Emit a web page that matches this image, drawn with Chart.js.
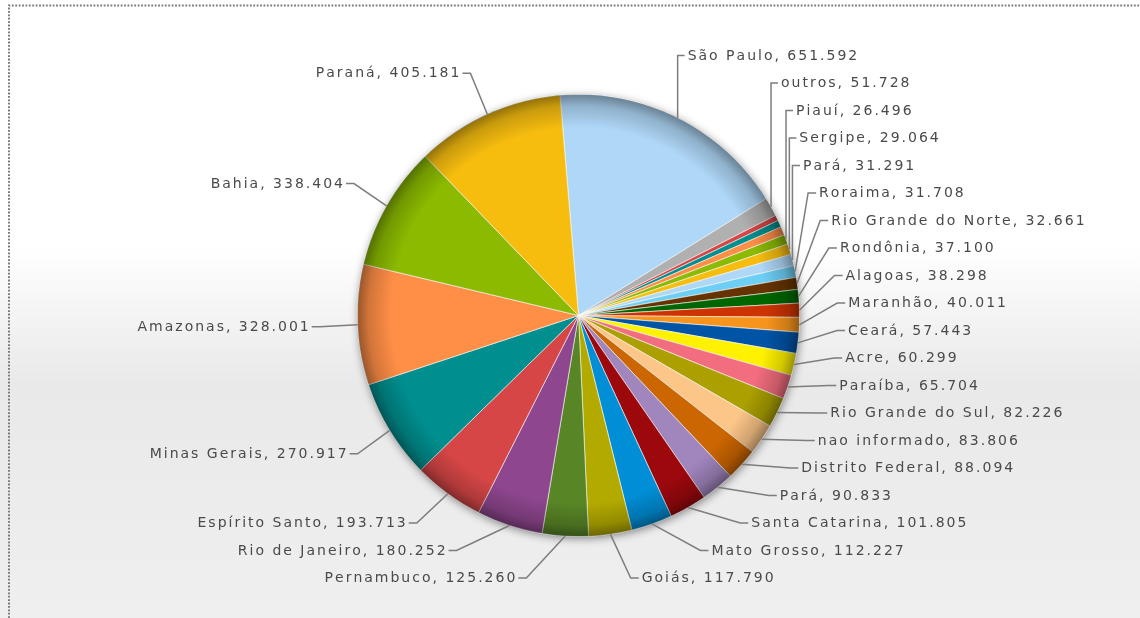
<!DOCTYPE html>
<html>
<head>
<meta charset="utf-8">
<script src="https://cdn.jsdelivr.net/npm/chart.js@4.4.0/dist/chart.umd.min.js"></script>
<style>
  html, body { margin: 0; padding: 0; background: #fff; }
  #wrap { width: 1140px; height: 618px; }
</style>
</head>
<body>
<div id="wrap"><canvas id="stateChart" width="1140" height="618"></canvas></div>
<script>
// slices in clockwise order from the top; empty name = no label drawn
const states = [
  "São Paulo", "outros", "", "", "", "Piauí", "Sergipe", "Pará", "Roraima",
  "Rio Grande do Norte", "Rondônia", "Alagoas", "Maranhão", "Ceará", "Acre",
  "Paraíba", "Rio Grande do Sul", "nao informado", "Distrito Federal", "Pará",
  "Santa Catarina", "Mato Grosso", "Goiás", "Pernambuco", "Rio de Janeiro",
  "Espírito Santo", "Minas Gerais", "Amazonas", "Bahia", "Paraná"
];
const totals = [
  651592, 51728, 15000, 19000, 23000, 26496, 29064, 31291, 31708,
  32661, 37100, 38298, 40011, 57443, 60299,
  65704, 82226, 83806, 88094, 90833,
  101805, 112227, 117790, 125260, 180252,
  193713, 270917, 328001, 338404, 405181
];
const sliceColors = [
  "#AFD8F8", "#B0B0B0", "#D64646", "#008E8E", "#FF8E46", "#8BBA00", "#F6BD0F", "#AFD8F8", "#6DCFF6",
  "#663300", "#006600", "#CC3300", "#F7941C", "#0054A6", "#FFF200",
  "#F26D7D", "#ABA000", "#FDC689", "#CC6600", "#A186BE",
  "#9D080D", "#008ED6", "#B3AA00", "#588526", "#8E468E",
  "#D64646", "#008E8E", "#FF8E46", "#8BBA00", "#F6BD0F"
];

const LABEL_FONT = '14px "DejaVu Sans", Verdana, sans-serif';
const LETTER_GAP = 2;

function fmt(v) {
  return String(v).replace(/\B(?=(\d{3})+(?!\d))/g, ".");
}

function spacedWidth(ctx, s) {
  let w = 0;
  for (const ch of s) w += ctx.measureText(ch).width + LETTER_GAP;
  return w - LETTER_GAP;
}

function drawSpaced(ctx, s, x, y) {
  for (const ch of s) {
    ctx.fillText(ch, x, y);
    x += ctx.measureText(ch).width + LETTER_GAP;
  }
}

// white-to-grey page background and the dotted frame
const backdrop = {
  id: "backdrop",
  beforeDraw(chart) {
    const { ctx, width, height } = chart;
    ctx.save();
    const g = ctx.createLinearGradient(0, 0, 0, height);
    g.addColorStop(0, "#ffffff");
    g.addColorStop(0.40, "#ffffff");
    g.addColorStop(0.62, "#e9e9e9");
    g.addColorStop(1, "#efefef");
    ctx.fillStyle = g;
    ctx.fillRect(0, 0, width, height);
    ctx.strokeStyle = "#7a7a7a";
    ctx.lineWidth = 2;
    ctx.setLineDash([1.8, 1.6]);
    ctx.beginPath();
    ctx.moveTo(9, height);
    ctx.lineTo(9, 5.5);
    ctx.lineTo(width, 5.5);
    ctx.stroke();
    ctx.restore();
  }
};

// drop shadow under the pie and darkened rim on top of it
const pieShade = {
  id: "pieShade",
  beforeDatasetsDraw(chart) {
    const { ctx } = chart;
    const arc = chart.getDatasetMeta(0).data[0];
    ctx.save();
    ctx.shadowColor = "rgba(0,0,0,0.45)";
    ctx.shadowBlur = 8;
    ctx.shadowOffsetX = 1;
    ctx.shadowOffsetY = 2;
    ctx.fillStyle = "#888";
    ctx.beginPath();
    ctx.arc(arc.x, arc.y, arc.outerRadius, 0, Math.PI * 2);
    ctx.fill();
    ctx.restore();
  },
  afterDatasetsDraw(chart) {
    const { ctx } = chart;
    const arc = chart.getDatasetMeta(0).data[0];
    const { x, y } = arc;
    const r = arc.outerRadius;
    ctx.save();
    ctx.beginPath();
    ctx.arc(x, y, r, 0, Math.PI * 2);
    ctx.clip();
    const g = ctx.createRadialGradient(x, y, 0, x, y, r);
    g.addColorStop(0, "rgba(0,0,0,0)");
    g.addColorStop(0.85, "rgba(0,0,0,0)");
    g.addColorStop(0.95, "rgba(0,0,0,0.18)");
    g.addColorStop(1, "rgba(0,0,0,0.40)");
    ctx.fillStyle = g;
    ctx.fillRect(x - r, y - r, 2 * r, 2 * r);
    ctx.restore();
  }
};

// outside labels with leader lines, stacked on each side of the pie
const sideLabels = {
  id: "sideLabels",
  afterDraw(chart) {
    const { ctx } = chart;
    const meta = chart.getDatasetMeta(0);
    const first = meta.data[0];
    const cx = first.x, cy = first.y, r = first.outerRadius;
    const reach = r + 49;      // curve the label texts follow
    const gap = 27.5;          // line height between stacked labels
    const top = 53, bottom = 578;

    const left = [], right = [];
    meta.data.forEach((arc, i) => {
      if (!states[i]) return;
      const mid = (arc.startAngle + arc.endAngle) / 2;
      const item = {
        text: states[i] + ", " + fmt(totals[i]),
        ax: cx + r * Math.cos(mid),
        ay: cy + r * Math.sin(mid),
        want: cy + (r + 45) * Math.sin(mid)
      };
      (Math.cos(mid) >= 0 ? right : left).push(item);
    });

    function stack(list) {
      list.sort((a, b) => a.want - b.want);
      let prev = -Infinity;
      list.forEach(it => {
        it.ly = Math.max(it.want, prev + gap, top);
        prev = it.ly;
      });
      let next = Infinity;
      for (let k = list.length - 1; k >= 0; k--) {
        list[k].ly = Math.min(list[k].ly, next - gap, bottom);
        next = list[k].ly;
      }
    }
    stack(left);
    stack(right);

    ctx.save();
    ctx.font = LABEL_FONT;
    ctx.textBaseline = "middle";
    ctx.lineWidth = 1.5;
    ctx.strokeStyle = "#7d7d7d";
    ctx.fillStyle = "#4a4a4a";

    const draw = (it, isRight) => {
      const dy = it.ly - cy;
      const span = Math.abs(dy) < reach ? Math.sqrt(reach * reach - dy * dy) : 0;
      let tx, ex, endX;
      if (isRight) {
        tx = Math.max(cx + span, it.ax + 10);
        ex = Math.max(it.ax, tx - 11);
        endX = tx - 3;
      } else {
        tx = Math.min(cx - span, it.ax - 10);
        ex = Math.min(it.ax, tx + 11);
        endX = tx + 3;
      }
      ctx.beginPath();
      ctx.moveTo(it.ax, it.ay);
      ctx.lineTo(ex, it.ly);
      ctx.lineTo(endX, it.ly);
      ctx.stroke();
      const w = spacedWidth(ctx, it.text);
      drawSpaced(ctx, it.text, isRight ? tx : tx - w, it.ly + 0.5);
    };
    right.forEach(it => draw(it, true));
    left.forEach(it => draw(it, false));
    ctx.restore();
  }
};

new Chart(document.getElementById("stateChart"), {
  type: "pie",
  data: {
    labels: states,
    datasets: [{
      data: totals,
      backgroundColor: sliceColors,
      borderColor: "rgba(255,255,255,0.6)",
      borderWidth: 1,
      hoverOffset: 0
    }]
  },
  options: {
    responsive: false,
    animation: false,
    rotation: -4.8,
    layout: { padding: { top: 94, bottom: 81, left: 17, right: 0 } },
    plugins: {
      legend: { display: false },
      tooltip: { enabled: false }
    }
  },
  plugins: [backdrop, pieShade, sideLabels]
});
</script>
</body>
</html>
